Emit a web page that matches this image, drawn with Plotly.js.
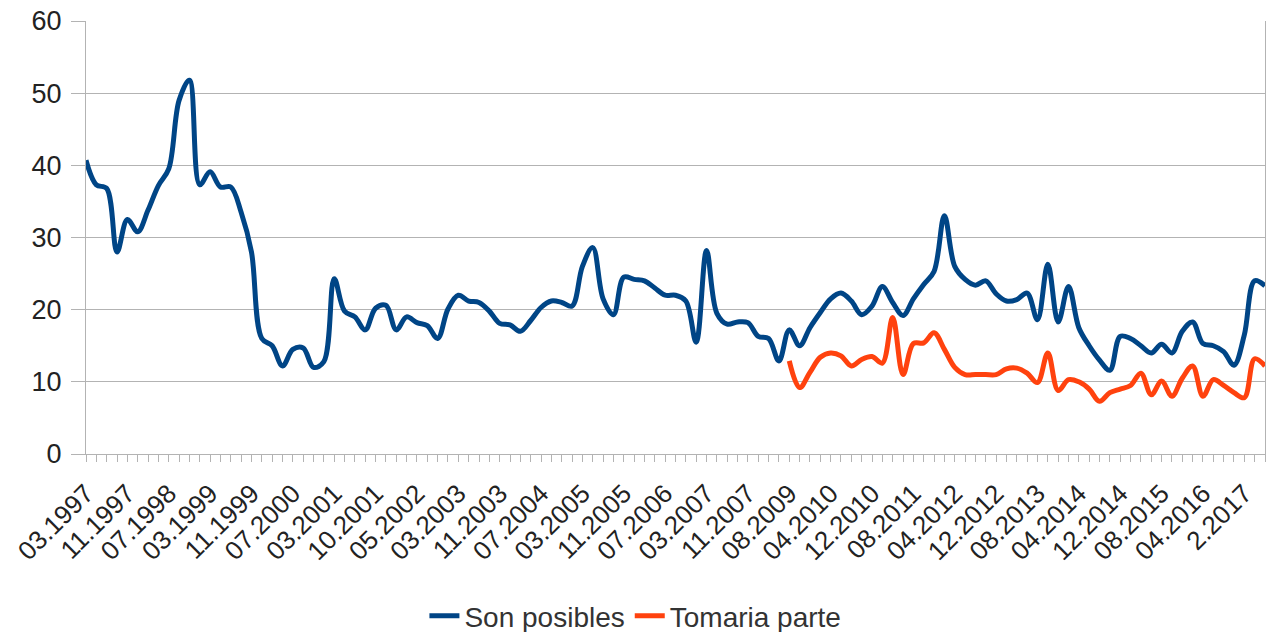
<!DOCTYPE html>
<html>
<head>
<meta charset="utf-8">
<script src="https://cdn.plot.ly/plotly-3.0.1.min.js"></script>
<style>html,body{margin:0;padding:0;background:#fff;}#chart{width:1271px;height:632px;}</style>
</head>
<body>
<div id="chart"></div>
<script>
// Tick labels shown on the category axis (every 4th survey point)
const tickLabels = ["03.1997","11.1997","07.1998","03.1999","11.1999","07.2000","03.2001","10.2001","05.2002","03.2003","11.2003","07.2004","03.2005","11.2005","07.2006","03.2007","11.2007","08.2009","04.2010","12.2010","08.2011","04.2012","12.2012","08.2013","04.2014","12.2014","08.2015","04.2016","2.2017"];
const labelEvery = 4;

// Series values (one per survey point)
const sonPosibles = [
  40.7,37.3,36.8,28.0,32.5,30.8,33.8,37.2,39.5,49.0,
  51.8,37.3,39.1,37.0,37.0,33.5,28.0,16.0,15.0,12.2,
  14.5,14.7,12.0,12.8,24.3,19.8,19.0,17.2,20.2,20.6,
  17.2,19.0,18.2,17.8,16.0,20.1,22.0,21.2,21.0,19.8,
  18.1,17.9,17.0,18.5,20.3,21.2,21.0,20.5,26.0,28.6,
  21.5,19.3,24.5,24.2,24.0,23.0,22.0,22.0,21.2,15.5,
  28.2,19.5,18.0,18.3,18.2,16.3,16.0,12.9,17.2,15.0,
  17.5,19.6,21.5,22.3,21.2,19.3,20.5,23.2,21.0,19.2,
  21.5,23.5,25.3,33.0,26.0,24.2,23.4,24.0,22.2,21.2,
  21.4,22.3,18.6,26.3,18.3,23.2,17.5,15.0,13.0,11.6,
  16.3,16.0,15.0,14.0,15.2,14.0,17.0,18.3,15.3,15.0,
  14.2,12.3,16.5,24.0,23.3
];
const tomariaParte = [
  null,null,null,null,null,null,null,null,null,null,
  null,null,null,null,null,null,null,null,null,null,
  null,null,null,null,null,null,null,null,null,null,
  null,null,null,null,null,null,null,null,null,null,
  null,null,null,null,null,null,null,null,null,null,
  null,null,null,null,null,null,null,null,null,null,
  null,null,null,null,null,null,null,null,12.9,9.2,
  11.3,13.4,14.0,13.6,12.2,13.1,13.5,12.6,18.9,11.0,
  15.3,15.4,16.8,14.5,12.0,11.0,11.0,11.0,11.0,11.8,
  11.9,11.2,9.9,14.0,8.8,10.3,10.0,9.0,7.3,8.5,
  9.0,9.5,11.2,8.2,10.1,8.0,10.5,12.2,8.0,10.3,
  9.5,8.5,7.8,13.2,12.2
];
const seriesNames = ["Son posibles","Tomaria parte"];
const seriesColors = ["#004586","#ff420e"];

const idx = sonPosibles.map((_, i) => i);
const tickvals = idx;
const ticktext = idx.map(i => (i % labelEvery === 0 && tickLabels[i / labelEvery]) ? tickLabels[i / labelEvery] : "");

const font = "Liberation Sans, Arial, sans-serif";
const traces = [sonPosibles, tomariaParte].map((vals, k) => ({
  x: idx, y: vals, type: "scatter", mode: "lines", name: seriesNames[k],
  line: {color: seriesColors[k], width: 5, shape: "spline", smoothing: 1},
  connectgaps: false, hoverinfo: "skip"
}));

const layout = {
  width: 1271, height: 632,
  margin: {l: 86, r: 6, t: 21, b: 178, autoexpand: false},
  paper_bgcolor: "#ffffff", plot_bgcolor: "#ffffff",
  font: {family: font, color: "#222"},
  showlegend: true,
  legend: {orientation: "h", x: 0.466, xanchor: "center", y: -0.374, yanchor: "middle",
           font: {size: 28, family: font, color: "#333"}, itemwidth: 30, tracegroupgap: 0},
  xaxis: {
    range: [0, idx.length - 1], tickmode: "array", tickvals: tickvals, ticktext: ticktext,
    tickangle: -45, ticks: "outside", ticklen: 7, tickcolor: "#b3b3b3", tickwidth: 1,
    tickfont: {size: 26, family: font, color: "#222"}, ticklabelstandoff: 6,
    showgrid: false, showline: true, linecolor: "#b3b3b3", linewidth: 1, mirror: false,
    zeroline: false, automargin: false, fixedrange: true
  },
  yaxis: {
    range: [0, 60], dtick: 10, tick0: 0, ticks: "outside", ticklen: 14, tickcolor: "#b3b3b3",
    tickfont: {size: 27, family: font, color: "#222"}, ticklabelstandoff: 4,
    showgrid: true, gridcolor: "#b3b3b3", gridwidth: 1,
    showline: true, linecolor: "#b3b3b3", linewidth: 1, mirror: true,
    zeroline: false, automargin: false, fixedrange: true
  }
};

Plotly.newPlot("chart", traces, layout, {displayModeBar: false, staticPlot: true});
</script>
</body>
</html>
